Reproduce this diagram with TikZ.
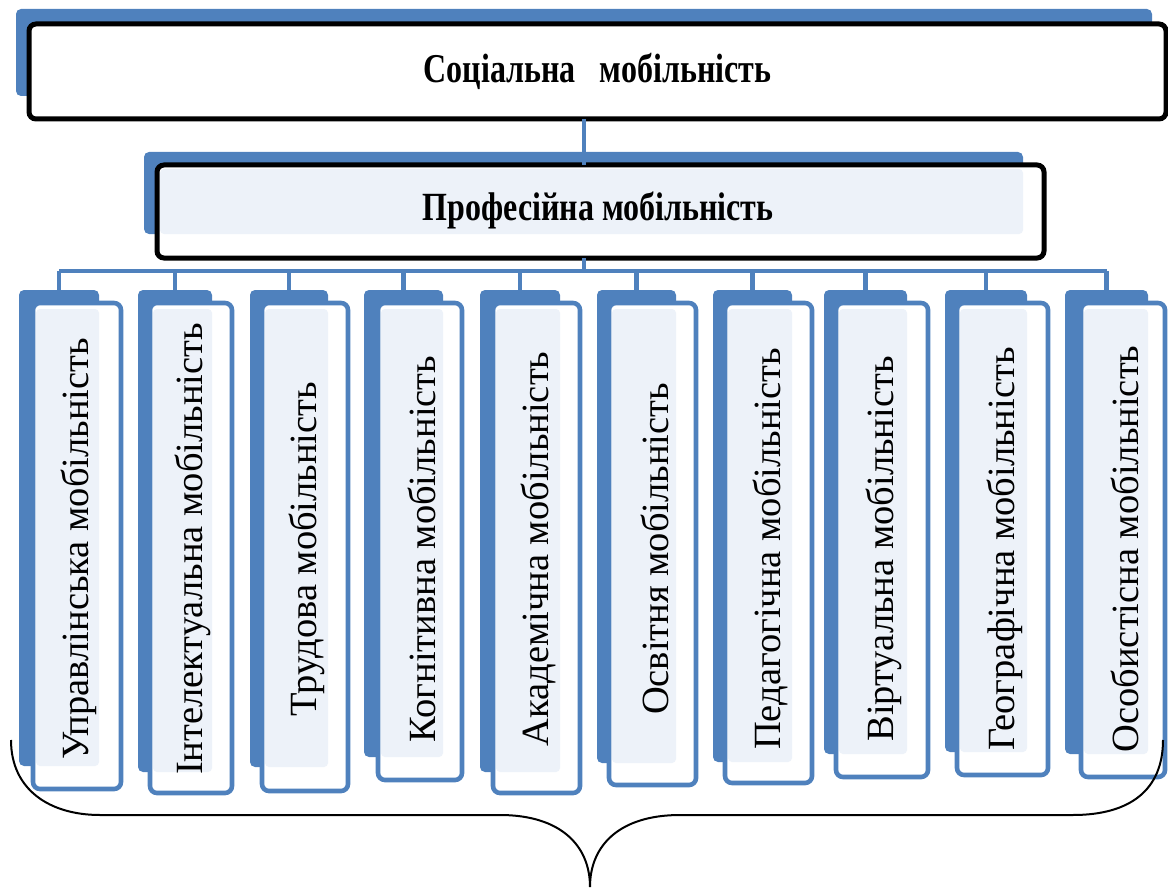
\documentclass[tikz,border=0pt]{standalone}
\usepackage{fontspec}
\setmainfont{Liberation Serif}
\usetikzlibrary{calc}
\definecolor{blueA}{HTML}{4F81BD}
\definecolor{paleA}{HTML}{EDF2F9}
\tikzset{
  backbox/.style={fill=blueA, draw=none, rounded corners=5pt, inner sep=0pt, outer sep=0pt},
  topframe/.style={draw=black, line width=5pt, rounded corners=7pt, inner sep=0pt, outer sep=0pt},
  colframe/.style={draw=blueA, line width=4.6pt, rounded corners=7pt, inner sep=0pt, outer sep=0pt},
  pale/.style={fill=paleA, rounded corners=4pt},
  conn/.style={draw=blueA, line width=4.6pt},
  titletext/.style={font=\fontsize{32}{36}\selectfont\bfseries},
  coltext/.style={font=\fontsize{38.5}{42}\selectfont, rotate=90, inner sep=0pt},
  bracepath/.style={draw=black, line width=2pt}
}
\begin{document}
\begin{tikzpicture}[x=1pt,y=-1pt]
\useasboundingbox (0,0) rectangle (1168,888);
% top level
\node[backbox, minimum width=1136pt, minimum height=87pt] (socback) at (584,52.5) {};
\fill[white, rounded corners=7pt] (29,24) rectangle (1166,119);
\node[topframe, minimum width=1137pt, minimum height=95pt, titletext] (soc) at (597.5,71.5) {\scalebox{1}[1.28]{Соціальна\ \ \ мобільність}};
% second level
\node[backbox, minimum width=879pt, minimum height=82pt] (profback) at (583.5,193) {};
\fill[white, rounded corners=7pt] (157,165) rectangle (1044,258);
\fill[pale] (160,169) rectangle (1023,234);
\node[topframe, minimum width=887pt, minimum height=93pt] (prof) at (600.5,211.5) {};
\node[titletext] (proftext) at (598,210) {\scalebox{1}[1.25]{Професійна мобільність}};
% trunk
\coordinate (trunk) at (584,271);
\draw[conn] (trunk |- soc.south) -- (trunk |- prof.north);
\draw[conn] (trunk |- prof.south) -- (trunk);
% columns
\foreach \i/\bl/\br/\bb/\fl/\fr/\fb/\txt in {
 1/19/99/766/33/121/789/Управлінська мобільність,
 2/138/212/772/150/232/793/Інтелектуальна мобільність,
 3/250/328/767/262/348/791/Трудова мобільність,
 4/364/443/757/378/462/780/Когнітивна мобільність,
 5/480/560/772/493/580/793/Академічна мобільність,
 6/597/676/763/609/696/785/Освітня мобільність,
 7/713/792/762/725/812/783/Педагогічна мобільність,
 8/824/907/754/836/928/777/Віртуальна мобільність,
 9/945/1027/752/957/1048/775/Географічна мобільність,
 10/1065/1148/754/1081/1165/777/Особистісна мобільність}{
  \node[backbox, minimum width={(\br-\bl)*1pt}, minimum height={(\bb-290)*1pt}] (b\i) at ({(\bl+\br)/2},{(\bb+290)/2}) {};
  \fill[white, rounded corners=7pt] (\fl,303) rectangle (\fr,\fb);
  \fill[pale] (\fl+3,309) rectangle (\br,\bb);
  \node[colframe, rotate=90, minimum width={(\fb-303)*1pt}, minimum height={(\fr-\fl)*1pt}] (f\i) at ({(\fl+\fr)/2},{(\fb+303)/2}) {};
  \node[coltext] (t\i) at ({(\fl+\fr)/2+2},549) {\txt};
  \draw[conn] (b\i.north) -- (b\i.north |- trunk);
}
\draw[conn] (b1.north |- trunk) -- (b10.north |- trunk);
% brace
\coordinate (brL) at (11,740);
\coordinate (brM) at (590,887);
\coordinate (brR) at (1163,740);
\draw[bracepath] (brL) .. controls (11,790) and (50,815) .. (100,815) -- (500,815)
  .. controls (560,815) and (590,845) .. (brM)
  .. controls (590,845) and (620,815) .. (680,815) -- (1073,815)
  .. controls (1130,815) and (1163,790) .. (brR);
\end{tikzpicture}
\end{document}
